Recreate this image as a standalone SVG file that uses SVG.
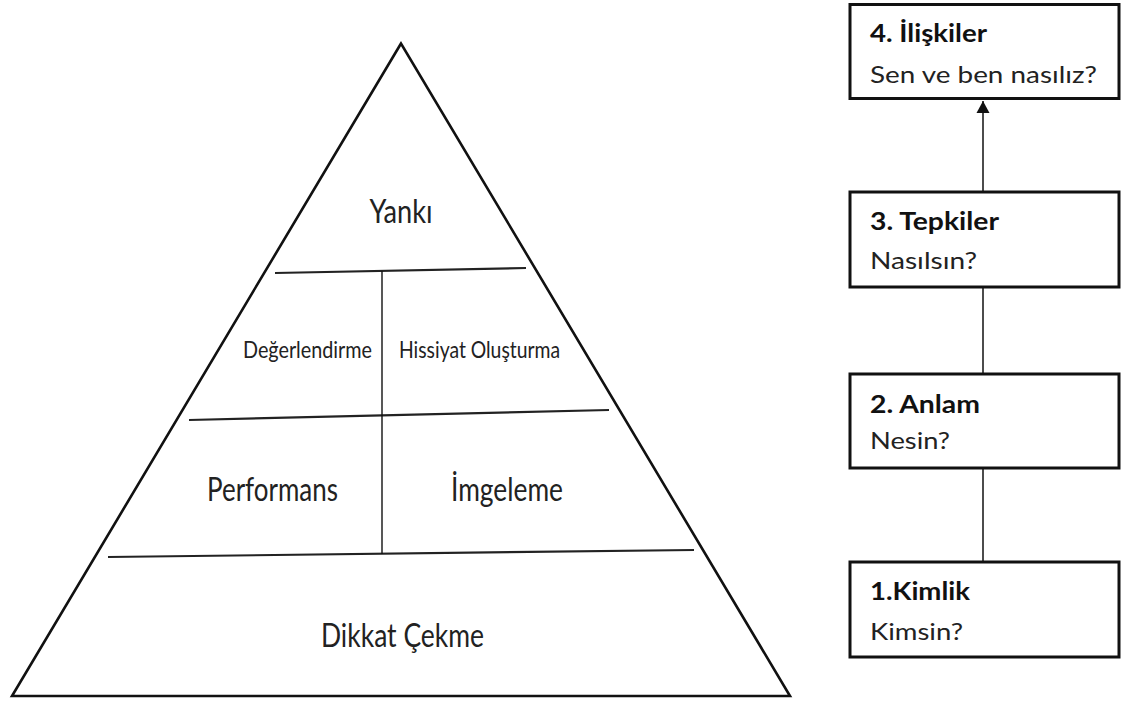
<svg xmlns="http://www.w3.org/2000/svg" width="1121" height="702" viewBox="0 0 1121 702">
  <style>
    .tri { fill: none; stroke: #111; stroke-width: 2.6; stroke-linejoin: miter; }
    .div { stroke: #222; stroke-width: 2.2; fill: none; }
    .vdiv { stroke: #111; stroke-width: 1.4; fill: none; }
    .lbl { font-family: Lato, "Open Sans", sans-serif; fill: #222; }
    .box { fill: #fff; stroke: #111; stroke-width: 3; }
    .ttl { font-family: Lato, "Open Sans", sans-serif; font-weight: bold; font-size: 24px; fill: #111; }
    .sub { font-family: Lato, "Open Sans", sans-serif; font-size: 24px; fill: #222; }
    .link { stroke: #111; stroke-width: 1.5; fill: none; }
  </style>
  <defs>
    <marker id="arrow" markerUnits="userSpaceOnUse" markerWidth="14" markerHeight="14" viewBox="0 0 14 14" refX="13" refY="7" orient="auto">
      <path d="M13 7 L1 0.5 L1 13.5 Z" fill="#111"/>
    </marker>
  </defs>
  <rect width="1121" height="702" fill="#fff"/>

  <!-- pyramid -->
  <g id="pyramid">
    <path class="tri" d="M401 43.5 L12 696 L790 696 Z"/>
    <line class="div" x1="275" y1="273" x2="526" y2="268"/>
    <line class="div" x1="189" y1="420" x2="609" y2="410"/>
    <line class="div" x1="108" y1="557" x2="694" y2="550"/>
    <line class="vdiv" x1="382" y1="271" x2="382" y2="554"/>
  </g>

  <g id="yanki">
    <text class="lbl" x="401" y="223" font-size="33" text-anchor="middle" textLength="63" lengthAdjust="spacingAndGlyphs">Yankı</text>
  </g>
  <g id="degerlendirme">
    <text class="lbl" x="243" y="358" font-size="24" textLength="129" lengthAdjust="spacingAndGlyphs">Değerlendirme</text>
  </g>
  <g id="hissiyat">
    <text class="lbl" x="399" y="358" font-size="24" textLength="161" lengthAdjust="spacingAndGlyphs">Hissiyat Oluşturma</text>
  </g>
  <g id="performans">
    <text class="lbl" x="207" y="501" font-size="32" textLength="131" lengthAdjust="spacingAndGlyphs">Performans</text>
  </g>
  <g id="imgeleme">
    <text class="lbl" x="451" y="501" font-size="32" textLength="112" lengthAdjust="spacingAndGlyphs">İmgeleme</text>
  </g>
  <g id="dikkat">
    <text class="lbl" x="321" y="647" font-size="33" textLength="163" lengthAdjust="spacingAndGlyphs">Dikkat Çekme</text>
  </g>

  <!-- connectors between the stages -->
  <g id="connectors">
    <line class="link" x1="983" y1="192" x2="983" y2="101" marker-end="url(#arrow)"/>
    <line class="link" x1="983" y1="374" x2="983" y2="284"/>
    <line class="link" x1="983" y1="562" x2="983" y2="468"/>
  </g>

  <!-- stage boxes -->
  <g id="stage4">
    <rect class="box" x="850" y="4.5" width="269" height="94"/>
    <text class="ttl" x="870" y="42" textLength="117" lengthAdjust="spacingAndGlyphs">4. İlişkiler</text>
    <text class="sub" x="870" y="83" textLength="227" lengthAdjust="spacingAndGlyphs">Sen ve ben nasılız?</text>
  </g>
  <g id="stage3">
    <rect class="box" x="850" y="192" width="269" height="95"/>
    <text class="ttl" x="870" y="230" textLength="129" lengthAdjust="spacingAndGlyphs">3. Tepkiler</text>
    <text class="sub" x="870" y="269" textLength="107" lengthAdjust="spacingAndGlyphs">Nasılsın?</text>
  </g>
  <g id="stage2">
    <rect class="box" x="850" y="374" width="269" height="94"/>
    <text class="ttl" x="870" y="413" textLength="110" lengthAdjust="spacingAndGlyphs">2. Anlam</text>
    <text class="sub" x="870" y="449" textLength="80" lengthAdjust="spacingAndGlyphs">Nesin?</text>
  </g>
  <g id="stage1">
    <rect class="box" x="850" y="562" width="269" height="95"/>
    <text class="ttl" x="870" y="600" textLength="100" lengthAdjust="spacingAndGlyphs">1.Kimlik</text>
    <text class="sub" x="870" y="640" textLength="93" lengthAdjust="spacingAndGlyphs">Kimsin?</text>
  </g>
</svg>
